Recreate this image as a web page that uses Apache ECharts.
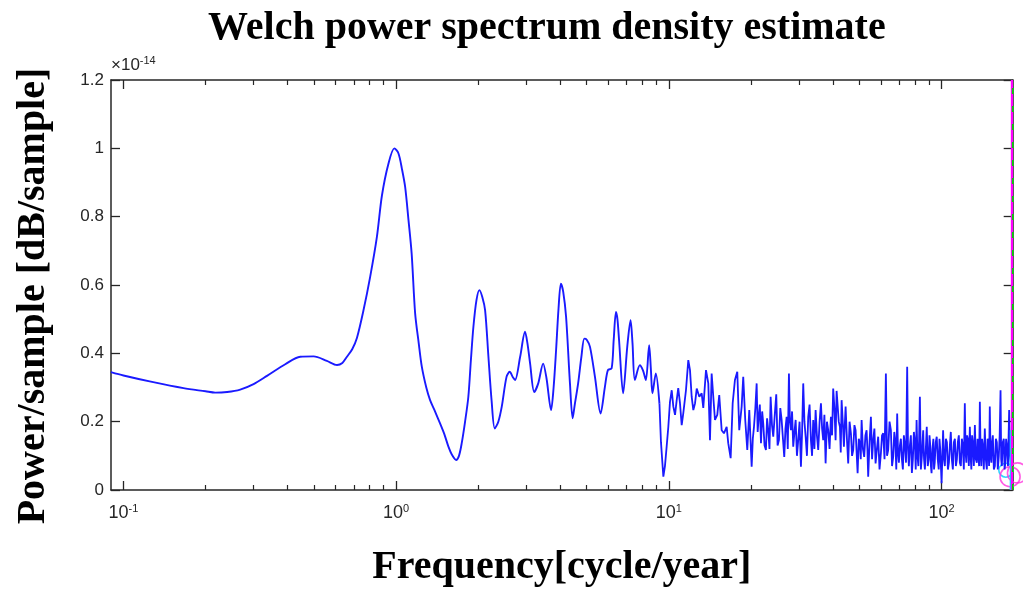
<!DOCTYPE html>
<html><head><meta charset="utf-8">
<script src="https://cdn.jsdelivr.net/npm/echarts@6/dist/echarts.min.js"></script>
<style>html,body{margin:0;padding:0;background:#fff}#c{width:1023px;height:594px}</style>
</head><body><div id="c"></div>
<script>
// frequency [cycle/year]
const freq = [
0.09,0.1,0.126,0.166,0.2,0.217,0.24,0.268,0.3,0.336,0.392,0.445,0.498,0.557,0.607,0.635,0.66,0.69,0.718,0.759,
0.803,0.85,0.887,0.937,0.985,1.02,1.05,1.079,1.11,1.14,1.174,1.21,1.242,1.29,1.332,1.38,1.449,1.5,1.555,1.6,
1.66,1.7,1.74,1.79,1.84,1.88,1.92,1.97,2.02,2.07,2.12,2.18,2.24,2.3,2.37,2.44,2.54,2.61,2.68,2.73,
2.85,2.97,3.03,3.1,3.21,3.32,3.46,3.56,3.7,3.78,3.86,3.94,4.02,4.1,4.2,4.34,4.44,4.52,4.65,4.78,
4.9,5.0,5.14,5.36,5.62,5.83,5.98,6.17,6.28,6.4,6.48,6.57,6.8,7.04,7.24,7.36,7.51,7.83,8.04,8.24,
8.47,8.6,8.71,8.96,9.24,9.36,9.55,9.68,
9.82,9.96,10.1,10.25,10.39,10.54,10.69,10.83,10.99,11.15,
11.3,11.56,11.79,11.96,12.13,12.3,12.48,12.66,12.94,13.2,
13.38,13.69,13.96,14.16,14.36,14.56,14.77,15.06,15.31,15.63,
15.93,16.3,16.52,16.86,17.15,17.48,17.83,18.13,18.5,18.75,
19.07,19.4,19.73,
20.13,20.33,20.53,20.77,21.0,21.18,21.36,21.57,21.78,22.0,
22.2,22.45,22.71,22.93,23.16,23.4,23.63,23.9,24.16,24.47,
24.78,25.06,25.35,25.64,25.93,26.22,26.51,26.78,27.05,27.31,
27.58,27.81,28.05,28.32,28.6,28.9,29.19,29.51,29.83,30.17,
30.52,30.82,31.12,31.44,31.76,32.11,32.46,32.83,33.21,33.53,
33.86,34.2,34.55,34.93,35.32,35.73,36.14,36.49,36.84,37.21,
37.59,38.01,38.43,38.87,39.31,39.7,40.08,40.49,40.9,41.25,
41.6,42.01,42.42,42.72,43.03,43.45,43.88,44.2,44.51,45.0,
45.5,46.02,46.55,47.0,47.46,47.95,48.43,48.85,49.26,49.74,
50.22,50.58,50.95,51.52,52.08,52.61,53.14,53.5,53.86,54.48,
55.11,55.65,56.19,56.76,57.33,57.97,58.6,59.27,59.95,60.54,
61.13,61.83,62.54,63.15,63.77,64.5,65.24,65.88,66.52,67.15,
67.77,68.28,68.8,69.3,69.8,70.4,70.99,71.59,72.19,72.8,
73.42,74.14,74.86,75.4,75.94,76.58,77.23,77.89,78.55,79.22,
79.89,80.47,81.05,81.67,82.29,82.81,83.34,84.05,84.76,85.23,
85.7,86.32,86.94,87.63,88.32,89.07,89.82,90.39,90.96,91.47,
91.98,92.68,93.39,93.93,94.47,95.27,96.08,96.9,97.72,98.34,
98.96,99.53,100.1,100.75,101.4,102.15,102.9,103.8,104.7,105.6,
106.5,107.35,108.2,109.15,110.1,111.05,112.0,112.95,113.9,114.85,
115.8,116.8,117.8,118.8,119.8,120.8,121.8,122.6,123.4,124.15,
124.9,126.0,127.1,127.9,128.7,129.5,130.3,131.45,132.6,133.7,
134.8,135.65,136.5,137.4,138.3,139.15,140.0,140.9,141.8,143.0,
144.2,145.45,146.7,147.65,148.6,149.5,150.4,151.4,152.4,153.35,
154.3,155.65,157.0,158.3,159.6,160.95,162.3,163.5,164.7,165.6,
166.5,167.9,169.3,170.4,171.5,172.6,173.7,175.4,177.1,178.4,
179.7,180.45,181.2
];
// power/sample, in units of 1e-14
const power = [
0.345,0.335,0.317,0.298,0.289,0.285,0.287,0.294,0.31,0.334,0.368,0.39,0.391,0.378,0.366,0.372,0.39,0.412,0.445,0.526,
0.624,0.741,0.862,0.955,1.0,0.985,0.94,0.887,0.79,0.692,0.517,0.43,0.361,0.3,0.263,0.235,0.195,0.165,0.127,0.104,
0.088,0.1,0.137,0.2,0.273,0.38,0.477,0.555,0.585,0.565,0.526,0.39,0.26,0.18,0.2,0.244,0.331,0.346,0.33,0.322,
0.39,0.463,0.43,0.37,0.287,0.312,0.37,0.327,0.234,0.3,0.409,0.53,0.604,0.58,0.507,0.312,0.21,0.25,0.312,0.39,
0.443,0.44,0.419,0.331,0.224,0.302,0.351,0.356,0.44,0.521,0.5,0.439,0.283,0.419,0.497,0.43,0.322,0.365,0.35,0.322,
0.424,0.35,0.283,0.341,0.253,0.14,0.039,0.07,
0.127,0.185,0.258,0.292,0.244,0.22,0.263,0.298,0.254,0.19,
0.224,0.292,0.38,0.351,0.273,0.234,0.254,0.297,0.273,0.283,
0.24,0.351,0.312,0.146,0.341,0.273,0.205,0.22,0.278,0.175,
0.166,0.185,0.137,0.093,0.254,0.322,0.346,0.175,0.244,0.331,
0.205,0.117,0.234,
0.068,0.15,0.185,0.24,0.312,0.17,0.214,0.25,0.137,0.23,
0.195,0.13,0.117,0.21,0.175,0.12,0.273,0.19,0.156,0.22,
0.28,0.13,0.146,0.24,0.205,0.15,0.097,0.18,0.214,0.12,
0.341,0.2,0.175,0.23,0.127,0.17,0.205,0.1,0.146,0.2,
0.068,0.17,0.312,0.2,0.156,0.1,0.214,0.25,0.146,0.1,
0.205,0.12,0.234,0.16,0.117,0.2,0.254,0.18,0.146,0.22,
0.078,0.2,0.175,0.12,0.214,0.16,0.297,0.24,0.146,0.29,
0.292,0.2,0.185,0.11,0.263,0.2,0.127,0.19,0.244,0.15,
0.078,0.2,0.166,0.1,0.117,0.19,0.175,0.11,0.049,0.15,
0.137,0.09,0.205,0.12,0.097,0.16,0.175,0.12,0.039,0.14,
0.214,0.09,0.146,0.18,0.078,0.12,0.156,0.06,0.107,0.16,
0.166,0.09,0.341,0.1,0.117,0.2,0.175,0.07,0.097,0.17,
0.14,0.06,0.224,0.11,0.08,0.13,0.15,0.09,0.06,0.16,
0.13,0.08,0.361,0.12,0.07,0.13,0.16,0.05,0.09,0.17,
0.14,0.06,0.205,0.1,0.07,0.15,0.273,0.06,0.1,0.14,
0.175,0.09,0.06,0.12,0.185,0.07,0.09,0.16,0.13,0.07,
0.049,0.12,0.15,0.06,0.08,0.14,0.156,0.09,0.06,0.15,
0.12,0.07,0.02,0.1,0.175,0.09,0.07,0.15,0.14,0.06,
0.08,0.13,0.17,0.09,0.06,0.14,0.15,0.07,0.09,0.14,
0.16,0.08,0.07,0.15,0.13,0.06,0.254,0.11,0.08,0.16,
0.15,0.07,0.185,0.1,0.06,0.16,0.14,0.07,0.19,0.09,
0.08,0.15,0.15,0.07,0.258,0.11,0.07,0.15,0.13,0.06,
0.18,0.09,0.06,0.15,0.14,0.07,0.244,0.1,0.08,0.14,
0.16,0.06,0.07,0.15,0.14,0.06,0.1,0.16,0.292,0.09,
0.07,0.14,0.15,0.06,0.08,0.15,0.13,0.07,0.234,0.1,
0.07,0.14,0.11
];
const smoothEnd = freq.indexOf(9.24); // smooth part of the curve ends here
const majorTicks = [0.1, 1, 10, 100];
const minorTicks = [0.2,0.3,0.4,0.5,0.6,0.7,0.8,0.9,2,3,4,5,6,7,8,9,20,30,40,50,60,70,80,90];
// overlay marks at the right edge
const edgeLineX = [181.3, 181.3];
const edgeLineY = [0, 1.2];
const borderDashX = [182.5, 182.5];
const cyanLineX = [180.2, 180.2];
const cyanLineY = [0, 0.175];
const circleX = [178.5, 190];
const circleY = [0.039, 0.05];
const cyanCircleX = [172.2];
const cyanCircleY = [0.058];

const AX = '#262626';
const BLUE = '#1a1aff';
const xBase = {type:'log', logBase:10, min:0.09, max:182.5, splitLine:{show:false}};
const majorTickStyle = {show:true, inside:true, length:9, customValues:majorTicks, lineStyle:{color:AX, width:1.3}};
const minorTickStyle = {show:true, inside:true, length:5, customValues:minorTicks, lineStyle:{color:AX, width:1.2}};
const serif = '"Liberation Serif","Times New Roman",serif';
const sans = '"Liberation Sans",Arial,Helvetica,sans-serif';

const pairs = (xs, ys) => xs.map((x, i) => [x, ys[i]]);
const allPts = pairs(freq, power);

const chart = echarts.init(document.getElementById('c'), null, {renderer:'canvas'});
chart.setOption({
  animation:false,
  backgroundColor:'#ffffff',
  title:[
    {text:'Welch power spectrum density estimate', left:203, top:4,
     textStyle:{fontFamily:serif, fontWeight:'bold', fontSize:40, color:'#000'}},
    {text:'{a|×10}{b|-14}', left:106, top:50,
     textStyle:{fontWeight:'normal', rich:{a:{fontFamily:sans, fontWeight:'normal', fontSize:17, color:AX},
       b:{fontFamily:sans, fontWeight:'normal', fontSize:11, color:AX, padding:[0,0,9,0]}}}}
  ],
  grid:[
    {left:111, right:10.3, top:80, bottom:104, containLabel:false},
    {left:111, right:10.3, top:80, bottom:104, containLabel:false}
  ],
  xAxis:[
    Object.assign({}, xBase, {gridIndex:0, position:'bottom',
      axisLine:{show:true, onZero:false, lineStyle:{color:AX, width:1.5}},
      axisTick:majorTickStyle,
      axisLabel:{show:true, customValues:majorTicks, margin:13,
        formatter:v => '{b|10}{s|' + Math.round(Math.log10(v)) + '}',
        rich:{b:{fontFamily:sans, fontSize:18, color:AX}, s:{fontFamily:sans, fontSize:11, color:AX, padding:[0,0,10,0]}}},
      name:'Frequency[cycle/year]', nameLocation:'middle', nameGap:58,
      nameTextStyle:{fontFamily:serif, fontWeight:'bold', fontSize:40, color:'#000'}}),
    Object.assign({}, xBase, {gridIndex:0, position:'top',
      axisLine:{show:true, onZero:false, lineStyle:{color:AX, width:1.5}},
      axisTick:majorTickStyle, axisLabel:{show:false}}),
    Object.assign({}, xBase, {gridIndex:1, position:'bottom',
      axisLine:{show:false, onZero:false}, axisTick:minorTickStyle, axisLabel:{show:false}}),
    Object.assign({}, xBase, {gridIndex:1, position:'top',
      axisLine:{show:false, onZero:false}, axisTick:minorTickStyle, axisLabel:{show:false}})
  ],
  yAxis:[
    {type:'value', gridIndex:0, position:'left', min:0, max:1.2, interval:0.2, splitLine:{show:false},
     axisLine:{show:true, onZero:false, lineStyle:{color:AX, width:1.5}},
     axisTick:{show:true, inside:true, length:9, lineStyle:{color:AX, width:1.3}},
     axisLabel:{show:true, margin:7, fontFamily:sans, fontSize:17, color:AX},
     name:'Power/sample [dB/sample]', nameLocation:'middle', nameGap:57,
     nameTextStyle:{fontFamily:serif, fontWeight:'bold', fontSize:40, color:'#000', padding:[0,22,0,0]}},
    {type:'value', gridIndex:0, position:'right', min:0, max:1.2, interval:0.2, splitLine:{show:false},
     axisLine:{show:true, onZero:false, lineStyle:{color:AX, width:1.5}},
     axisTick:{show:true, inside:true, length:9, lineStyle:{color:AX, width:1.3}},
     axisLabel:{show:false}},
    {type:'value', gridIndex:1, min:0, max:1.2, show:false}
  ],
  series:[
    {type:'line', name:'psd', xAxisIndex:0, yAxisIndex:0, data:allPts.slice(0, smoothEnd + 1),
     smooth:0.3, showSymbol:false, lineStyle:{color:BLUE, width:1.9}, itemStyle:{color:BLUE}},
    {type:'line', name:'psd2', xAxisIndex:0, yAxisIndex:0, data:allPts.slice(smoothEnd),
     smooth:false, showSymbol:false, lineStyle:{color:BLUE, width:1.8}, itemStyle:{color:BLUE}},
    {type:'line', xAxisIndex:0, yAxisIndex:0, data:pairs(cyanLineX, cyanLineY), clip:false,
     showSymbol:false, lineStyle:{color:'#00e5ff', width:3}},
    {type:'line', xAxisIndex:0, yAxisIndex:0, data:pairs(edgeLineX, edgeLineY), clip:false,
     showSymbol:false, lineStyle:{color:'#ff00ff', width:2.2}},
    {type:'line', xAxisIndex:0, yAxisIndex:0, data:pairs(borderDashX, edgeLineY), clip:false,
     showSymbol:false, lineStyle:{color:'#00dd00', width:1.6, type:[6,12]}},
    {type:'scatter', xAxisIndex:0, yAxisIndex:0, data:pairs(cyanCircleX, cyanCircleY), clip:false,
     symbol:'circle', symbolSize:14, itemStyle:{color:'rgba(0,0,0,0)', borderColor:'#00c8ff', borderWidth:1.6}},
    {type:'scatter', xAxisIndex:0, yAxisIndex:0, data:pairs(circleX, circleY), clip:false,
     symbol:'circle', symbolSize:20, itemStyle:{color:'rgba(0,0,0,0)', borderColor:'#ff33dd', borderWidth:1.6}}
  ]
});
</script></body></html>
